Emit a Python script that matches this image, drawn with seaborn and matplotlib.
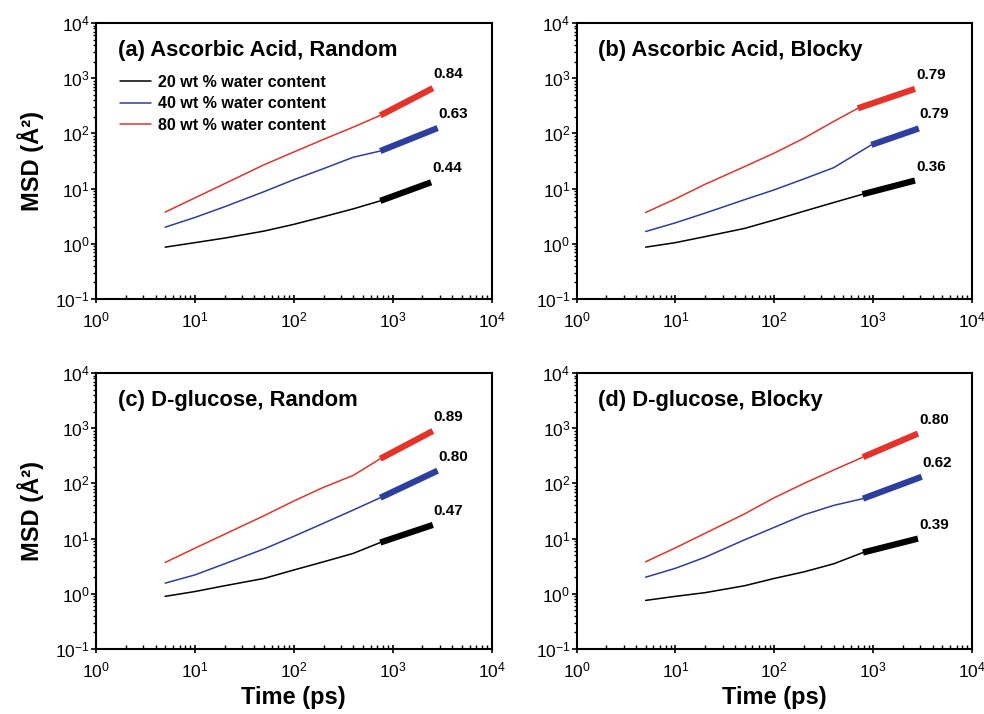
import numpy as np
import pandas as pd
import seaborn as sns
import matplotlib
matplotlib.use("Agg")
from matplotlib import pyplot as plt
from matplotlib import ticker

sns.set_style("ticks")
plt.rcParams["font.family"] = ["Liberation Sans", "DejaVu Sans"]
plt.rcParams["mathtext.fontset"] = "custom"
plt.rcParams["mathtext.rm"] = "Liberation Sans"
plt.rcParams["axes.unicode_minus"] = False
plt.rcParams["text.color"] = "black"
plt.rcParams["axes.labelcolor"] = "black"
plt.rcParams["xtick.color"] = "black"
plt.rcParams["ytick.color"] = "black"
plt.rcParams["axes.edgecolor"] = "black"

# time grid (ps) for the thin MSD curves, shared by all panels
t_grid = [5, 10, 20, 50, 100, 200, 400]
water = ["20 wt % water content", "40 wt % water content", "80 wt % water content"]

# (a) Ascorbic Acid, Random
a_black = [0.87, 1.05, 1.27, 1.7, 2.25, 3.1, 4.3]
a_blue = [2.0, 3.0, 4.7, 8.8, 14.5, 23, 37]
a_red = [3.75, 6.8, 12.3, 27, 46, 78, 130]
a_fit_t0 = [750, 750, 750]
a_fit_t1 = [2450, 2850, 2550]
a_fit_y0 = [6.0, 48, 212]
a_fit_y1 = [13, 125, 660]
a_slopes = ["0.44", "0.63", "0.84"]

# (b) Ascorbic Acid, Blocky
b_black = [0.87, 1.05, 1.35, 1.9, 2.7, 3.9, 5.6]
b_blue = [1.67, 2.4, 3.6, 6.3, 9.5, 15, 24]
b_red = [3.7, 6.5, 12, 25, 44, 82, 165]
b_fit_t0 = [780, 960, 700]
b_fit_t1 = [2650, 2900, 2650]
b_fit_y0 = [7.9, 62, 285]
b_fit_y1 = [14, 123, 640]
b_slopes = ["0.36", "0.79", "0.79"]

# (c) D-glucose, Random
c_black = [0.9, 1.1, 1.4, 1.9, 2.7, 3.8, 5.4]
c_blue = [1.56, 2.2, 3.5, 6.5, 11, 19, 33]
c_red = [3.7, 6.7, 12, 26, 48, 85, 140]
c_fit_t0 = [750, 750, 750]
c_fit_t1 = [2550, 2850, 2550]
c_fit_y0 = [8.5, 55, 280]
c_fit_y1 = [17.7, 170, 890]
c_slopes = ["0.47", "0.80", "0.89"]

# (d) D-glucose, Blocky
d_black = [0.76, 0.9, 1.05, 1.4, 1.9, 2.5, 3.5]
d_blue = [2.0, 2.9, 4.6, 9.5, 16, 27, 40]
d_red = [3.8, 6.8, 12.5, 28, 55, 100, 175]
d_fit_t0 = [790, 790, 790]
d_fit_t1 = [2840, 3100, 2840]
d_fit_y0 = [5.6, 53, 300]
d_fit_y1 = [10, 132, 800]
d_slopes = ["0.39", "0.62", "0.80"]

titles = [
    "(a) Ascorbic Acid, Random",
    "(b) Ascorbic Acid, Blocky",
    "(c) D-glucose, Random",
    "(d) D-glucose, Blocky",
]

colors = ["black", "#2c3e9f", "#e5332a"]
palette = dict(zip(water, colors))

panels = [
    ([a_black, a_blue, a_red], a_fit_t0, a_fit_t1, a_fit_y0, a_fit_y1, a_slopes),
    ([b_black, b_blue, b_red], b_fit_t0, b_fit_t1, b_fit_y0, b_fit_y1, b_slopes),
    ([c_black, c_blue, c_red], c_fit_t0, c_fit_t1, c_fit_y0, c_fit_y1, c_slopes),
    ([d_black, d_blue, d_red], d_fit_t0, d_fit_t1, d_fit_y0, d_fit_y1, d_slopes),
]

fig, ax = plt.subplots(2, 2, figsize=(9.84, 7.14), dpi=100)
fig.subplots_adjust(left=0.0976, right=0.9878, top=0.9678, bottom=0.091,
                    wspace=0.215, hspace=0.268)
axes = [ax[0, 0], ax[0, 1], ax[1, 0], ax[1, 1]]

for i, (curves, t0, t1, y0, y1, slopes) in enumerate(panels):
    a = axes[i]
    thin = []
    thick = []
    for j, w in enumerate(water):
        for t, y in zip(t_grid + [t0[j]], curves[j] + [y0[j]]):
            thin.append({"time": t, "msd": y, "water": w})
        thick.append({"time": t0[j], "msd": y0[j], "water": w})
        thick.append({"time": t1[j], "msd": y1[j], "water": w})
    thin = pd.DataFrame(thin)
    thick = pd.DataFrame(thick)

    sns.lineplot(data=thin, x="time", y="msd", hue="water", palette=palette,
                 estimator=None, linewidth=1.1, ax=a, legend=(i == 0))
    sns.lineplot(data=thick, x="time", y="msd", hue="water", palette=palette,
                 estimator=None, linewidth=4.5, ax=a, legend=False,
                 solid_capstyle="butt")
    for j in range(3):
        a.annotate(slopes[j], (t1[j], y1[j]), xytext=(1, 7),
                   textcoords="offset pixels", ha="left", va="bottom",
                   fontsize=11, fontweight="bold")

    a.set_xscale("log")
    a.set_yscale("log")
    a.set_xlim(1, 1e4)
    a.set_ylim(0.1, 1e4)
    a.xaxis.set_major_locator(ticker.LogLocator(base=10, numticks=10))
    a.yaxis.set_major_locator(ticker.LogLocator(base=10, numticks=10))
    a.xaxis.set_minor_locator(ticker.LogLocator(base=10, subs=np.arange(2, 10), numticks=20))
    a.yaxis.set_minor_locator(ticker.LogLocator(base=10, subs=np.arange(2, 10), numticks=20))
    a.xaxis.set_minor_formatter(ticker.NullFormatter())
    a.yaxis.set_minor_formatter(ticker.NullFormatter())
    a.tick_params(axis="x", which="major", direction="inout", length=6, width=1.2,
                  labelsize=12.5, pad=5)
    a.tick_params(axis="x", which="minor", direction="in", length=3, width=1)
    a.tick_params(axis="y", which="major", direction="out", length=3.5, width=1.2,
                  labelsize=12.5, pad=1)
    a.tick_params(axis="y", which="minor", direction="out", length=2.5, width=1)
    for s in a.spines.values():
        s.set_linewidth(1.5)
        s.set_visible(True)

    a.text(0.055, 0.9, titles[i], transform=a.transAxes, fontsize=15.8,
           fontweight="bold", va="center", ha="left")
    a.set_xlabel("Time (ps)" if i >= 2 else "", fontsize=17, fontweight="bold")
    a.set_ylabel("MSD (Å²)" if i % 2 == 0 else "", fontsize=17,
                 fontweight="bold", labelpad=8)

leg = axes[0].legend(loc="upper left", bbox_to_anchor=(0.045, 0.836), frameon=False,
                     fontsize=11.5, handlelength=1.9, handletextpad=0.45,
                     labelspacing=0.42, borderaxespad=0)
for txt in leg.get_texts():
    txt.set_fontweight("bold")

plt.savefig("out.png", dpi=100)
